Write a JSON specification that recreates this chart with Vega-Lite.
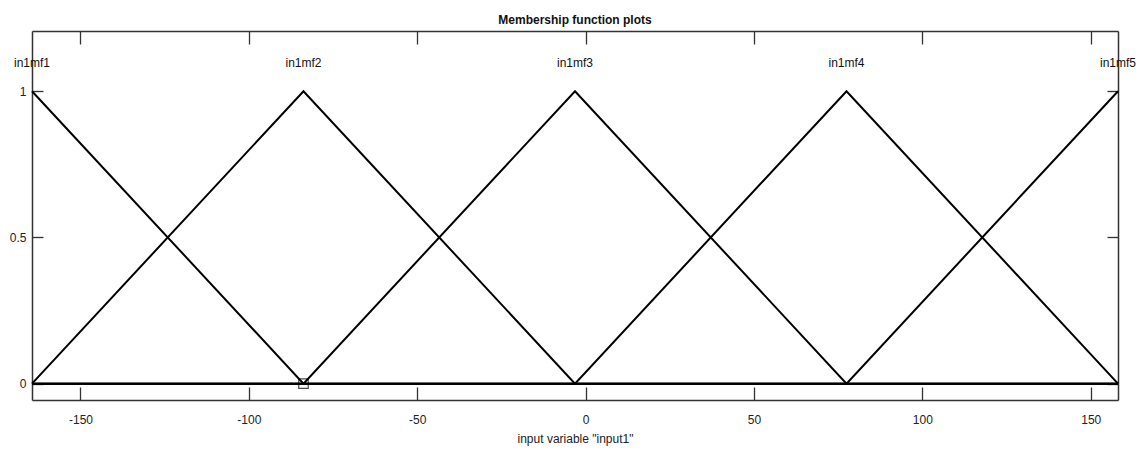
{
  "$schema": "https://vega.github.io/schema/vega-lite/v6.json",
  "autosize": {"type": "none"},
  "width": 1086,
  "height": 369,
  "padding": {"left": 32, "top": 31, "right": 23, "bottom": 50},
  "background": "white",
  "title": {
    "text": "Membership function plots",
    "anchor": "middle",
    "font": "Liberation Sans",
    "fontSize": 12,
    "fontWeight": "bold",
    "color": "#111",
    "baseline": "alphabetic",
    "offset": -6
  },
  "datasets": {
    "curves": [
      {"mf": "in1mf1", "x": -164.4, "y": 1},
      {"mf": "in1mf1", "x": -83.78, "y": 0},
      {"mf": "in1mf1", "x": 158.1, "y": 0},
      {"mf": "in1mf2", "x": -164.4, "y": 0},
      {"mf": "in1mf2", "x": -83.78, "y": 1},
      {"mf": "in1mf2", "x": -3.15, "y": 0},
      {"mf": "in1mf2", "x": 158.1, "y": 0},
      {"mf": "in1mf3", "x": -164.4, "y": 0},
      {"mf": "in1mf3", "x": -83.78, "y": 0},
      {"mf": "in1mf3", "x": -3.15, "y": 1},
      {"mf": "in1mf3", "x": 77.48, "y": 0},
      {"mf": "in1mf3", "x": 158.1, "y": 0},
      {"mf": "in1mf4", "x": -164.4, "y": 0},
      {"mf": "in1mf4", "x": -3.15, "y": 0},
      {"mf": "in1mf4", "x": 77.48, "y": 1},
      {"mf": "in1mf4", "x": 158.1, "y": 0},
      {"mf": "in1mf5", "x": -164.4, "y": 0},
      {"mf": "in1mf5", "x": 77.48, "y": 0},
      {"mf": "in1mf5", "x": 158.1, "y": 1}
    ],
    "names": [
      {"mf": "in1mf1", "x": -164.4, "y": 1.095},
      {"mf": "in1mf2", "x": -83.78, "y": 1.095},
      {"mf": "in1mf3", "x": -3.15, "y": 1.095},
      {"mf": "in1mf4", "x": 77.48, "y": 1.095},
      {"mf": "in1mf5", "x": 158.1, "y": 1.095}
    ],
    "marker": [
      {"x": -83.78, "y": 0}
    ]
  },
  "layer": [
    {
      "data": {"name": "curves"},
      "mark": {"type": "line", "color": "#000", "strokeWidth": 2},
      "encoding": {
        "x": {
          "field": "x", "type": "quantitative",
          "scale": {"domain": [-164.4, 158.1], "nice": false, "zero": false},
          "axis": {
            "orient": "bottom",
            "values": [-150, -100, -50, 0, 50, 100, 150],
            "labelExpr": "'' + datum.value",
            "title": "input variable \"input1\"",
            "titlePadding": 8,
            "labelPadding": 27
          }
        },
        "y": {
          "field": "y", "type": "quantitative",
          "scale": {"domain": [-0.056, 1.206], "nice": false, "zero": false},
          "axis": {
            "orient": "left",
            "values": [0, 0.5, 1],
            "labelExpr": "'' + datum.value",
            "title": null,
            "labelPadding": 17
          }
        },
        "detail": {"field": "mf"}
      }
    },
    {
      "data": {"name": "names"},
      "mark": {"type": "text", "font": "Liberation Sans", "fontSize": 12, "color": "#111", "baseline": "middle", "align": "center"},
      "encoding": {
        "x": {
          "field": "x", "type": "quantitative",
          "axis": {"orient": "top", "values": [-150, -100, -50, 0, 50, 100, 150], "labels": false, "title": null}
        },
        "y": {
          "field": "y", "type": "quantitative",
          "axis": {"orient": "right", "values": [0, 0.5, 1], "labels": false, "title": null}
        },
        "text": {"field": "mf"}
      }
    },
    {
      "data": {"name": "marker"},
      "mark": {"type": "point", "shape": "square", "size": 90, "filled": false, "color": "#000", "strokeWidth": 1.2},
      "encoding": {
        "x": {"field": "x", "type": "quantitative", "axis": null},
        "y": {"field": "y", "type": "quantitative", "axis": null}
      }
    }
  ],
  "resolve": {"axis": {"x": "independent", "y": "independent"}},
  "config": {
    "view": {"stroke": null},
    "axis": {
      "grid": false,
      "domain": true,
      "domainColor": "#333",
      "domainWidth": 1.5,
      "ticks": true,
      "tickColor": "#333",
      "tickWidth": 1.3,
      "labelFont": "Liberation Sans",
      "labelFontSize": 12,
      "labelColor": "#222",
      "titleFont": "Liberation Sans",
      "titleFontSize": 12,
      "titleFontWeight": "normal",
      "titleColor": "#222"
    },
    "axisX": {"tickSize": -13},
    "axisY": {"tickSize": -11}
  }
}
